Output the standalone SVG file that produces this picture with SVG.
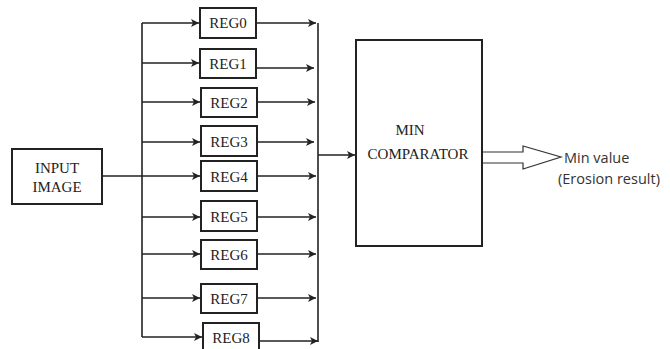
<svg xmlns="http://www.w3.org/2000/svg" width="670" height="349" viewBox="0 0 670 349">
<style>
.box{fill:#fff;stroke:#222;stroke-width:2}
.ln{fill:none;stroke:#222;stroke-width:1.6}
.t{font-family:"Liberation Serif",serif;font-size:15px;fill:#222;text-anchor:middle}
.s{font-family:"Open Sans","Liberation Sans",sans-serif;font-size:14.5px;fill:#333}
</style>
<defs>
<marker id="ah" markerUnits="userSpaceOnUse" markerWidth="9" markerHeight="8" refX="8" refY="4" orient="auto">
<path d="M0,0 L8,4 L0,8 L2,4 Z" fill="#222"/>
</marker>
</defs>
<rect width="670" height="349" fill="#fff"/>
<g id="connectors">
<line class="ln" x1="142" y1="23" x2="142" y2="337"/>
<line class="ln" x1="318" y1="23" x2="318" y2="342"/>
<line class="ln" x1="102" y1="176" x2="142" y2="176"/>
<line class="ln" x1="142" y1="23" x2="199" y2="23" marker-end="url(#ah)"/>
<line class="ln" x1="142" y1="63" x2="199" y2="63" marker-end="url(#ah)"/>
<line class="ln" x1="142" y1="102" x2="200" y2="102" marker-end="url(#ah)"/>
<line class="ln" x1="142" y1="142" x2="200" y2="142" marker-end="url(#ah)"/>
<line class="ln" x1="142" y1="176" x2="200" y2="176" marker-end="url(#ah)"/>
<line class="ln" x1="142" y1="217" x2="200" y2="217" marker-end="url(#ah)"/>
<line class="ln" x1="142" y1="254" x2="200" y2="254" marker-end="url(#ah)"/>
<line class="ln" x1="142" y1="298" x2="200" y2="298" marker-end="url(#ah)"/>
<line class="ln" x1="142" y1="337" x2="202" y2="337" marker-end="url(#ah)"/>
<line class="ln" x1="256" y1="23" x2="316" y2="23" marker-end="url(#ah)"/>
<line class="ln" x1="254" y1="68" x2="314" y2="68" marker-end="url(#ah)"/>
<line class="ln" x1="254" y1="102" x2="315" y2="102" marker-end="url(#ah)"/>
<line class="ln" x1="254" y1="142" x2="314" y2="142" marker-end="url(#ah)"/>
<line class="ln" x1="256" y1="176" x2="316" y2="176" marker-end="url(#ah)"/>
<line class="ln" x1="256" y1="217" x2="316" y2="217" marker-end="url(#ah)"/>
<line class="ln" x1="256" y1="254" x2="316" y2="254" marker-end="url(#ah)"/>
<line class="ln" x1="256" y1="298" x2="316" y2="298" marker-end="url(#ah)"/>
<line class="ln" x1="258" y1="341" x2="318" y2="341" marker-end="url(#ah)"/>
<line class="ln" x1="318" y1="155" x2="355" y2="155" marker-end="url(#ah)"/>
<path d="M482,152 L523,152 L523,146 L561,157 L523,169 L523,163 L482,163" fill="#fff" stroke="#333" stroke-width="1.2"/>
</g>
<g id="input"><rect class="box" x="12" y="149" width="90" height="55"/><text class="t" x="57" y="173">INPUT</text><text class="t" x="57" y="192">IMAGE</text></g>
<g id="reg0"><rect class="box" x="200" y="8" width="56" height="30"/><text class="t" x="228" y="28">REG0</text></g>
<g id="reg1"><rect class="box" x="200" y="49" width="56" height="29"/><text class="t" x="228" y="69">REG1</text></g>
<g id="reg2"><rect class="box" x="201" y="88" width="56" height="29"/><text class="t" x="229" y="108">REG2</text></g>
<g id="reg3"><rect class="box" x="201" y="126" width="56" height="30"/><text class="t" x="229" y="147">REG3</text></g>
<g id="reg4"><rect class="box" x="201" y="161" width="56" height="30"/><text class="t" x="229" y="182">REG4</text></g>
<g id="reg5"><rect class="box" x="201" y="201" width="56" height="30"/><text class="t" x="229" y="222">REG5</text></g>
<g id="reg6"><rect class="box" x="201" y="240" width="56" height="29"/><text class="t" x="229" y="260">REG6</text></g>
<g id="reg7"><rect class="box" x="201" y="284" width="56" height="29"/><text class="t" x="229" y="304">REG7</text></g>
<g id="reg8"><rect class="box" x="203" y="323" width="56" height="30"/><text class="t" x="231" y="343">REG8</text></g>
<g id="comparator"><rect class="box" x="356" y="40" width="126" height="206"/><text class="t" x="410" y="135">MIN</text><text class="t" x="418" y="159">COMPARATOR</text></g>
<g id="output"><text class="s" x="564" y="163">Min value</text><text class="s" x="558" y="184">(Erosion result)</text></g>
</svg>
